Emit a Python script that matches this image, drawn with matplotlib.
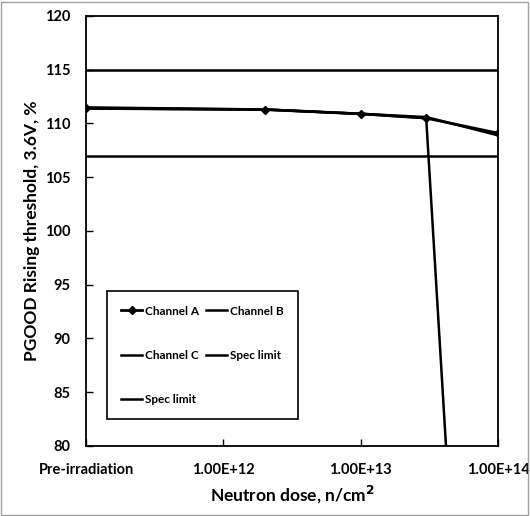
import numpy as np
import matplotlib.pyplot as plt
from matplotlib.patches import Rectangle

plt.rcParams['font.family'] = ['Lato', 'DejaVu Sans']
plt.rcParams['font.weight'] = 'bold'

# dosis (n/cm2); la primera es "Pre-irradiation", dibujada en 1E11
dose = [1e11, 2e12, 1e13, 3e13, 1e14]
tick_pos = [1e11, 1e12, 1e13, 1e14]
tick_lab = ['Pre-irradiation', '1.00E+12', '1.00E+13', '1.00E+14']

chA = [111.4, 111.3, 110.9, 110.5, 109.1]
chB = [111.5, 111.3, 110.9, 110.6, 108.9]
chC = [111.4, 111.3, 110.9, 110.5, 0.0]

spec_x = [1e11, 1e14]
spec_hi = [115, 115]
spec_lo = [107, 107]

fig = plt.figure(figsize=(5.3, 5.16), dpi=100)
ax = fig.add_axes([0.1623, 0.1357, 0.7773, 0.8333])

lA, = ax.plot(dose, chA, color='black', lw=2, marker='D', ms=4, label='Channel A')
lB, = ax.plot(dose, chB, color='black', lw=1.8, label='Channel B')
lC, = ax.plot(dose, chC, color='black', lw=1.8, label='Channel C')
s1, = ax.plot(spec_x, spec_hi, color='black', lw=1.8, label='Spec limit')
s2, = ax.plot(spec_x, spec_lo, color='black', lw=1.8, label='Spec limit')

ax.set_xscale('log')
ax.set_xlim(1e11, 1e14)
ax.set_ylim(80, 120)
ax.set_xticks(tick_pos)
ax.set_xticklabels(tick_lab)
ax.minorticks_off()
ax.set_yticks(np.arange(80, 121, 5))
ax.tick_params(direction='in', length=5, width=1, labelsize=10.5)
ax.tick_params(axis='y', pad=11)
ax.tick_params(axis='x', pad=12)
for s in ax.spines.values():
    s.set_linewidth(1.3)

ax.set_xlabel('Neutron dose, n/cm$^\\mathbf{2}$', fontsize=12.5, fontweight='bold', labelpad=5)
ax.set_ylabel('PGOOD Rising threshold, 3.6V, %', fontsize=12.5, fontweight='bold', labelpad=4)

leg = ax.legend([lA, lC, s2, lB, s1],
                ['Channel A', 'Channel C', 'Spec limit', 'Channel B', 'Spec limit'],
                ncol=2, loc='lower left', bbox_to_anchor=(0.051, 0.063, 0.464, 0.316),
                mode='expand', borderaxespad=0, fontsize=8.5, handlelength=1.8,
                handletextpad=0.25, labelspacing=2.8, borderpad=1.2, fancybox=False,
                edgecolor='black', framealpha=1, columnspacing=1.0)
leg.get_frame().set_linewidth(1.2)

fig.patches.append(Rectangle((0.002, 0.002), 0.994, 0.994, transform=fig.transFigure,
                             fill=False, edgecolor='#a0a0a0', lw=1))

fig.savefig('out.png', dpi=100)
